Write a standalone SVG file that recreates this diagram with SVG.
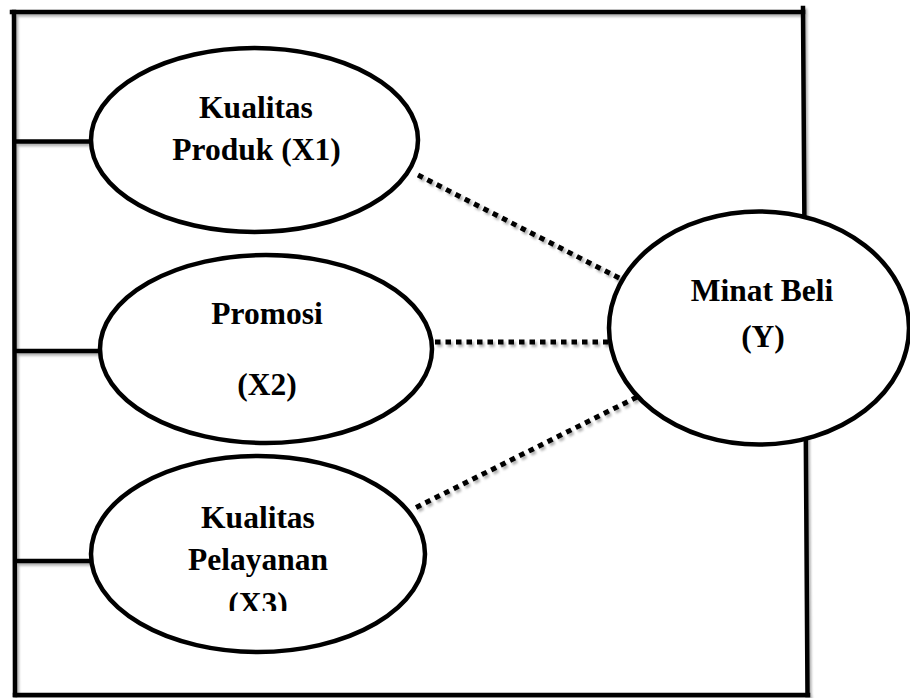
<svg xmlns="http://www.w3.org/2000/svg" width="910" height="698" viewBox="0 0 910 698">
<style>
.frame{stroke:#000;stroke-width:4.5;fill:none;stroke-linecap:square}
.stub{stroke:#000;stroke-width:4.5;fill:none}
.dot{stroke:#000;stroke-width:5;fill:none;stroke-dasharray:5.5 5}
.node{fill:#fff;stroke:#000;stroke-width:4.5}
.lbl{font-family:"Liberation Serif","Times New Roman",serif;font-weight:bold;font-size:31.5px;fill:#000;text-anchor:middle}
</style>
<defs>
<filter id="sh" x="-10%" y="-10%" width="120%" height="120%">
<feDropShadow dx="2" dy="2.5" stdDeviation="1.3" flood-color="#000" flood-opacity="0.3"/>
</filter>
<clipPath id="clipX3"><rect x="150" y="440" width="220" height="171"/></clipPath>
</defs>
<rect x="0" y="0" width="910" height="698" fill="#fff"/>
<g id="connectors" filter="url(#sh)">
<line class="frame" x1="12" y1="12" x2="803" y2="12"/>
<line class="frame" x1="803" y1="8" x2="807.5" y2="695"/>
<line class="frame" x1="15" y1="695" x2="808" y2="695"/>
<line class="frame" x1="14" y1="12" x2="15" y2="695"/>
<line class="stub" x1="14" y1="141.5" x2="92" y2="141.5"/>
<line class="stub" x1="14" y1="351" x2="101" y2="351"/>
<line class="stub" x1="15" y1="561" x2="92" y2="561"/>
<line class="dot" x1="418" y1="175" x2="621" y2="279"/>
<line class="dot" x1="435" y1="342" x2="609" y2="342"/>
<line class="dot" x1="637" y1="397" x2="415" y2="508"/>
</g>
<g id="node-x1">
<ellipse class="node" cx="254.5" cy="140" rx="163.5" ry="92"/>
<text class="lbl" x="256" y="118">Kualitas</text>
<text class="lbl" x="256.5" y="160">Produk (X1)</text>
</g>
<g id="node-x2">
<ellipse class="node" cx="266" cy="349" rx="166" ry="94"/>
<text class="lbl" x="267" y="324">Promosi</text>
<text class="lbl" x="267" y="395">(X2)</text>
</g>
<g id="node-x3">
<ellipse class="node" cx="258" cy="554" rx="167" ry="98"/>
<text class="lbl" x="258" y="528">Kualitas</text>
<text class="lbl" x="258" y="570">Pelayanan</text>
<text class="lbl" x="258" y="614" clip-path="url(#clipX3)">(X3)</text>
</g>
<g id="node-y">
<ellipse class="node" cx="759" cy="328" rx="150" ry="116.5"/>
<text class="lbl" x="762" y="301">Minat Beli</text>
<text class="lbl" x="763" y="347">(Y)</text>
</g>
</svg>
